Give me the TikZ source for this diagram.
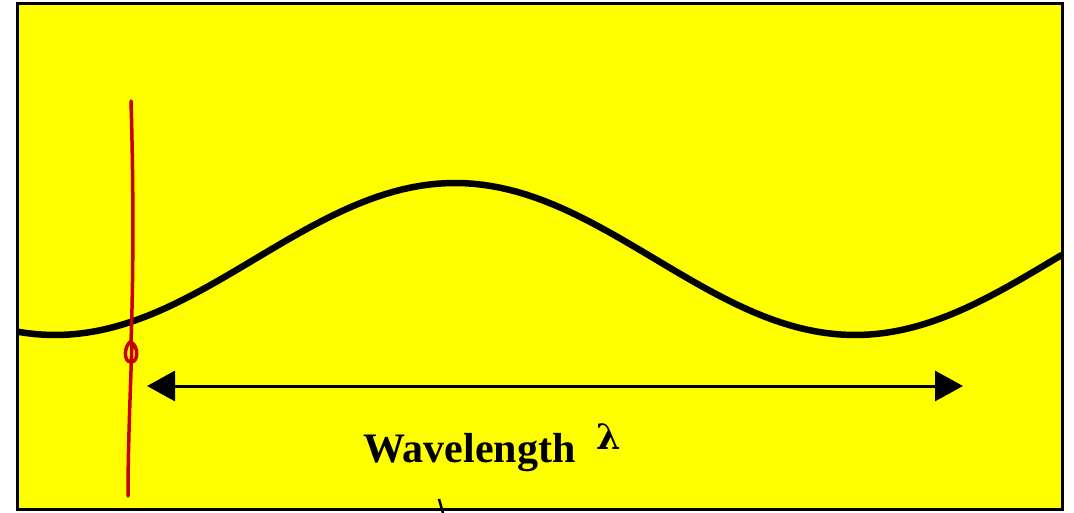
\documentclass[tikz,border=0pt]{standalone}
\usepackage{fontspec}
\setmainfont{Liberation Serif}
\newfontfamily\lamfont{DejaVu Serif}
\usetikzlibrary{arrows.meta}
\definecolor{panelyellow}{RGB}{255,255,0}
\definecolor{penred}{RGB}{200,0,0}

\begin{document}
\begin{tikzpicture}[
    x=1pt, y=-1pt,
    % panel, wave and span arrow
    panel/.style={draw=black, line width=3pt, fill=panelyellow},
    wave/.style={black, line width=6.5pt, line join=round},
    span/.style={black, line width=3pt, {Triangle[length=28pt, width=30pt]}-{Triangle[length=28pt, width=30pt]}},
    pen/.style={draw=penred, line width=3.5pt, line cap=round, line join=round},
    caption/.style={font=\fontsize{42}{48}\selectfont\bfseries, inner sep=0pt}
]
\useasboundingbox (0,0) rectangle (1074,513);

% yellow panel
\draw[panel] (17,4) rectangle (1062,509);

% the wave (wavelength 800, so 0.45 deg per unit)
\draw[wave] plot[domain=17:1062, samples=120] (\x, {259-76*cos(0.45*(\x-455))});

% wavelength arrow
\coordinate (lam0) at (147,386);
\coordinate (lam1) at (963,386);
\draw[span] (lam0) -- (lam1);

% caption
\node[caption, anchor=base west] (cap) at (363,462) {Wavelength};
\node[font=\fontsize{35}{38}\selectfont\lamfont\bfseries, anchor=base west, inner sep=0pt] (lam) at (596,449) {λ};

% hand-drawn red mark
\draw[pen] (131,101) .. controls (134,200) and (133,290) .. (131,341)
  .. controls (124,346) and (123,362) .. (131,362)
  .. controls (139,362) and (138,346) .. (132,343)
  .. controls (130,400) and (128,450) .. (128,496);

% small stroke at the bottom
\coordinate (tick0) at (439,499);
\coordinate (tick1) at (443,513);
\draw[black, line width=2.5pt] (tick0) -- (tick1);
\end{tikzpicture}
\end{document}
